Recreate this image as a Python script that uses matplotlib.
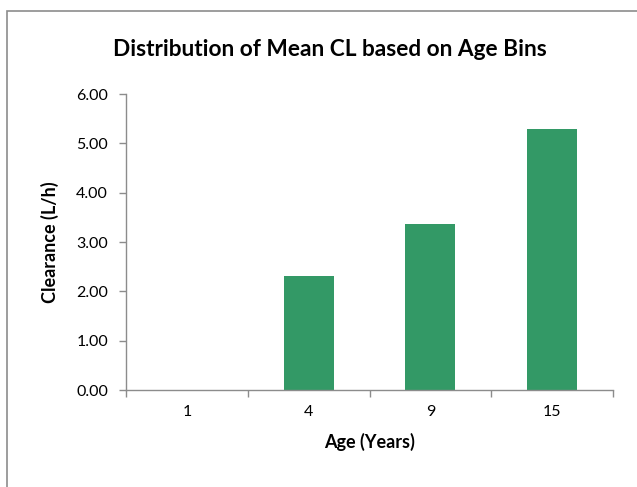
import matplotlib
matplotlib.use("Agg")
import matplotlib.pyplot as plt
from matplotlib.patches import Rectangle
import numpy as np

categories = ["1", "4", "9", "15"]
values = [0.0, 2.32, 3.37, 5.30]

plt.rcParams['font.family'] = ['Lato', 'DejaVu Sans']

W, H = 637, 487
fig = plt.figure(figsize=(W/100, H/100), dpi=100)
fig.patches.append(Rectangle((7/W, -0.1), 1.2, 1 - 11/H + 0.1, transform=fig.transFigure,
                             fill=False, edgecolor='#8c8c8c', linewidth=1.2))

ax = fig.add_axes([126/W, 1 - 390/H, (613-126)/W, (390-94)/H])
x = np.arange(len(categories))
ax.bar(x, values, width=0.41, color='#339966', edgecolor='none')
ax.set_xlim(-0.5, len(categories) - 0.5)
ax.set_ylim(0, 6)
ax.set_yticks(np.arange(0, 7, 1))
ax.set_yticklabels([f"{v:.2f}" for v in np.arange(0, 7, 1)], fontsize=11.5)
ax.set_xticks(x)
ax.set_xticklabels(categories, fontsize=11.5)
ax.tick_params(axis='x', length=0, pad=11)
ax.set_xticks(np.arange(-0.5, len(categories), 1), minor=True)
ax.tick_params(axis='x', which='minor', length=5, color='#8c8c8c', width=1)
ax.tick_params(axis='y', length=5, color='#8c8c8c', width=1, pad=8)
for s in ['top', 'right']:
    ax.spines[s].set_visible(False)
for s in ['left', 'bottom']:
    ax.spines[s].set_color('#8c8c8c')
    ax.spines[s].set_linewidth(1)
ax.set_xlabel("Age (Years)", fontsize=13, fontweight='bold', labelpad=10)
ax.set_ylabel("Clearance (L/h)", fontsize=13, fontweight='bold', labelpad=12)
fig.text(330/W, 1 - 50/H, "Distribution of Mean CL based on Age Bins", ha='center', va='center',
         fontsize=16.3, fontweight='bold')

fig.savefig("out.png", dpi=100)
